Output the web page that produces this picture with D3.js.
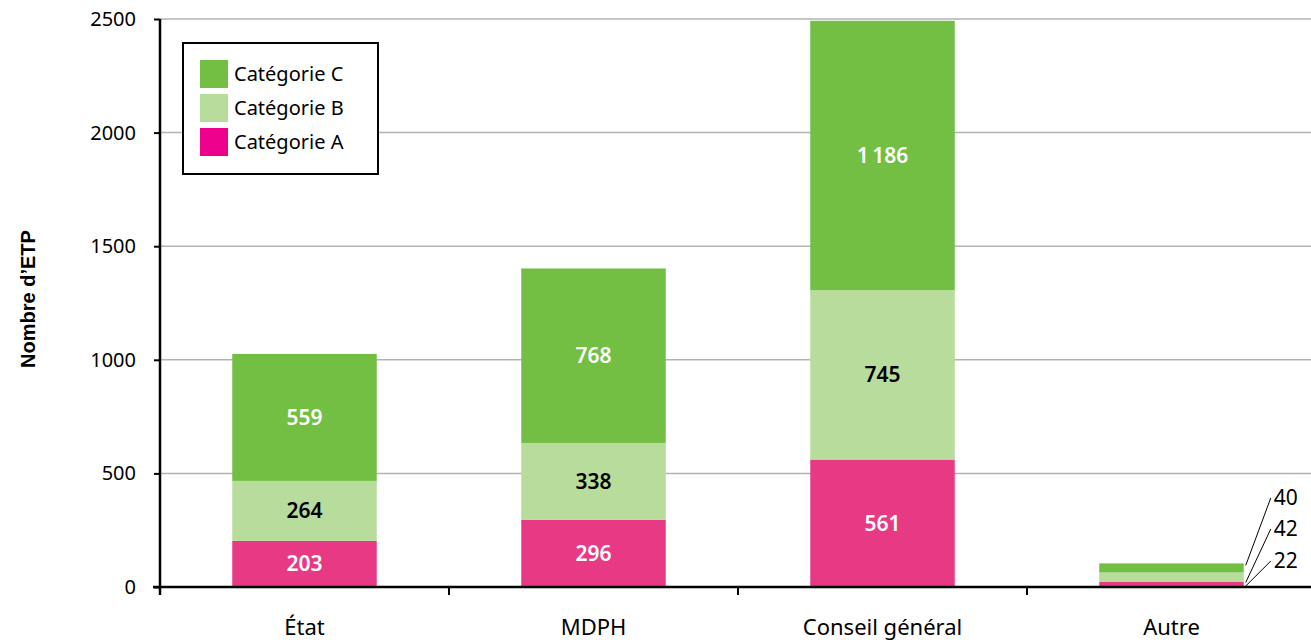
<!DOCTYPE html>
<html>
<head>
<meta charset="utf-8">
<script src="https://cdn.jsdelivr.net/npm/d3@7"></script>
<style>
  body { margin: 0; background: #fff; }
  svg { display: block; font-family: "Noto Sans", sans-serif; }
</style>
</head>
<body>
<div id="chart"></div>
<script>
'use strict';

// data
var categories = ["État", "MDPH", "Conseil général", "Autre"];
var catA = [203, 296, 561, 22];
var catB = [264, 338, 745, 42];
var catC = [559, 768, 1186, 40];
var yTicks = [0, 500, 1000, 1500, 2000, 2500];
var seriesNames = ["Catégorie A", "Catégorie B", "Catégorie C"];

(function() {
    var width = 1311, height = 642;

    var svg = d3.select("#chart").append("svg")
        .attr("width", width)
        .attr("height", height);

    var x = d3.scaleBand()
        .domain(categories)
        .range([160, 1316])
        .paddingInner(0.5)
        .paddingOuter(0.25);

    var y = d3.scaleLinear()
        .domain([0, 2500])
        .range([587, 19]);

    var barColors = ["#e83a84", "#b8dc9b", "#72bf44"];
    var legendColors = ["#ec008c", "#b8dc9b", "#72bf44"];
    var labelColors = ["#fff", "#000", "#fff"];

    // gridlines
    svg.append("g")
        .selectAll("line")
        .data(yTicks.filter(function(d) { return d > 0; }))
        .enter().append("line")
        .attr("x1", 160).attr("x2", width)
        .attr("y1", function(d) { return y(d); })
        .attr("y2", function(d) { return y(d); })
        .attr("stroke", "#b3b3b3")
        .attr("stroke-width", 1.5);

    // stacked data
    var rows = categories.map(function(c, i) {
        return { cat: c, A: catA[i], B: catB[i], C: catC[i] };
    });
    var stack = d3.stack().keys(["A", "B", "C"])(rows);

    var layers = svg.append("g").selectAll("g")
        .data(stack)
        .enter().append("g")
        .attr("fill", function(d, i) { return barColors[i]; });

    layers.selectAll("rect")
        .data(function(d) { return d; })
        .enter().append("rect")
        .attr("x", function(d) { return x(d.data.cat); })
        .attr("width", x.bandwidth())
        .attr("y", function(d) { return y(d[1]); })
        .attr("height", function(d) { return y(d[0]) - y(d[1]); });

    // value labels inside bars (not for "Autre")
    stack.forEach(function(layer, li) {
        svg.append("g").selectAll("text")
            .data(layer.filter(function(d) { return d.data.cat !== "Autre"; }))
            .enter().append("text")
            .attr("x", function(d) { return x(d.data.cat) + x.bandwidth() / 2; })
            .attr("y", function(d) { return (y(d[0]) + y(d[1])) / 2; })
            .attr("dy", "0.36em")
            .attr("text-anchor", "middle")
            .attr("font-size", 21)
            .attr("font-weight", 600)
            .attr("fill", labelColors[li])
            .text(function(d) {
                return d3.format(",")(d[1] - d[0]).replace(",", "\u2009");
            });
    });

    // leader labels for "Autre"
    var autreX = x("Autre") + x.bandwidth();
    var leaders = stack.map(function(layer) {
        var d = layer[3];
        return { v: d[1] - d[0], y0: d[0], y1: d[1] };
    });
    var labelY = [560, 528, 497];
    var lg = svg.append("g");
    leaders.forEach(function(d, i) {
        var ya = i === 0 ? y(d.y0) - 1 : y(d.y1) + (i === 1 ? 10 : 2);
        lg.append("line")
            .attr("x1", autreX + 2)
            .attr("y1", ya)
            .attr("x2", autreX + 27)
            .attr("y2", labelY[i] + 1)
            .attr("stroke", "#000")
            .attr("stroke-width", 1);
        lg.append("text")
            .attr("x", autreX + 30)
            .attr("y", labelY[i])
            .attr("dy", "0.36em")
            .attr("font-size", 21)
            .attr("fill", "#000")
            .text(d.v);
    });

    // y axis
    var yAxis = svg.append("g")
        .attr("transform", "translate(160,0)")
        .call(d3.axisLeft(y).tickValues(yTicks).tickSize(6).tickPadding(18)
            .tickFormat(d3.format("d")));
    yAxis.select(".domain").remove();
    yAxis.selectAll(".tick line").attr("stroke", "#000").attr("stroke-width", 2);
    yAxis.selectAll("text")
        .attr("font-size", 20)
        .attr("font-family", "'Noto Sans', sans-serif")
        .attr("fill", "#000");
    svg.append("line")
        .attr("x1", 160).attr("x2", 160)
        .attr("y1", y(2500)).attr("y2", y(0) + 8)
        .attr("stroke", "#000").attr("stroke-width", 2.5);

    // x axis
    svg.append("line")
        .attr("x1", 153).attr("x2", width)
        .attr("y1", y(0)).attr("y2", y(0))
        .attr("stroke", "#000").attr("stroke-width", 2.5);
    var step = x.step();
    svg.append("g").selectAll("line")
        .data([1, 2, 3])
        .enter().append("line")
        .attr("x1", function(i) { return 160 + step * i; })
        .attr("x2", function(i) { return 160 + step * i; })
        .attr("y1", y(0)).attr("y2", y(0) + 8)
        .attr("stroke", "#000").attr("stroke-width", 2);
    svg.append("g").selectAll("text")
        .data(categories)
        .enter().append("text")
        .attr("x", function(d) { return x(d) + x.bandwidth() / 2; })
        .attr("y", 627)
        .attr("dy", "0.36em")
        .attr("text-anchor", "middle")
        .attr("font-size", 22)
        .attr("fill", "#000")
        .text(function(d) { return d; });

    // y title
    svg.append("text")
        .attr("transform", "translate(28,299) rotate(-90)")
        .attr("dy", "0.36em")
        .attr("text-anchor", "middle")
        .attr("font-family", "'Liberation Sans', Arial, sans-serif")
        .attr("font-size", 20)
        .attr("font-weight", "bold")
        .text("Nombre d\u2019ETP");

    // legend
    var legend = svg.append("g").attr("transform", "translate(183,43)");
    legend.append("rect")
        .attr("width", 195).attr("height", 131)
        .attr("fill", "#fff").attr("stroke", "#000").attr("stroke-width", 2);
    var order = [2, 1, 0];
    order.forEach(function(si, k) {
        legend.append("rect")
            .attr("x", 17).attr("y", 17 + k * 34)
            .attr("width", 28).attr("height", 28)
            .attr("fill", legendColors[si]);
        legend.append("text")
            .attr("x", 51).attr("y", 31 + k * 34)
            .attr("dy", "0.36em")
            .attr("font-size", 20)
            .text(seriesNames[si]);
    });
})();
</script>
</body>
</html>
